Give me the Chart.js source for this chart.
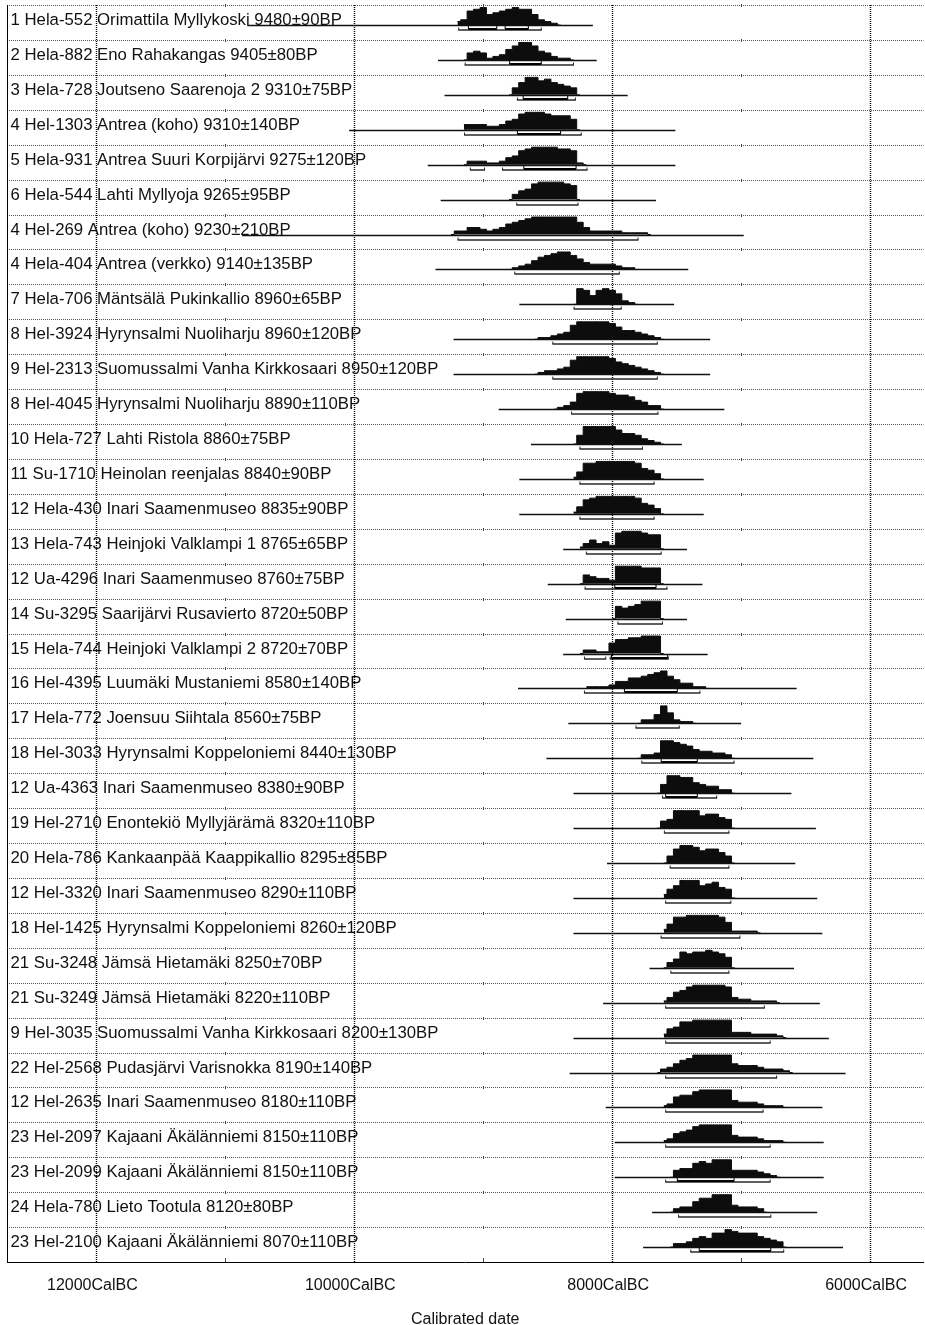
<!DOCTYPE html>
<html lang="fi">
<head>
<meta charset="UTF-8" />
<title>Calibrated date</title>
<script src="https://cdn.jsdelivr.net/npm/chart.js"></script>
<style>
  html, body { margin: 0; padding: 0; background: #fff; }
  #wrap { width: 925px; height: 1325px; }
</style>
</head>
<body>
<div id="wrap"><canvas id="chart"></canvas></div>
<script>
// row labels, top to bottom
const labels = [
  '1 Hela-552 Orimattila Myllykoski 9480±90BP',
  '2 Hela-882 Eno Rahakangas 9405±80BP',
  '3 Hela-728 Joutseno Saarenoja 2 9310±75BP',
  '4 Hel-1303 Antrea (koho) 9310±140BP',
  '5 Hela-931 Antrea Suuri Korpijärvi 9275±120BP',
  '6 Hela-544 Lahti Myllyoja 9265±95BP',
  '4 Hel-269 Antrea (koho) 9230±210BP',
  '4 Hela-404 Antrea (verkko) 9140±135BP',
  '7 Hela-706 Mäntsälä Pukinkallio 8960±65BP',
  '8 Hel-3924 Hyrynsalmi Nuoliharju 8960±120BP',
  '9 Hel-2313 Suomussalmi Vanha Kirkkosaari 8950±120BP',
  '8 Hel-4045 Hyrynsalmi Nuoliharju 8890±110BP',
  '10 Hela-727 Lahti Ristola 8860±75BP',
  '11 Su-1710 Heinolan reenjalas 8840±90BP',
  '12 Hela-430 Inari Saamenmuseo 8835±90BP',
  '13 Hela-743 Heinjoki Valklampi 1 8765±65BP',
  '12 Ua-4296 Inari Saamenmuseo 8760±75BP',
  '14 Su-3295 Saarijärvi Rusavierto 8720±50BP',
  '15 Hela-744 Heinjoki Valklampi 2 8720±70BP',
  '16 Hel-4395 Luumäki Mustaniemi 8580±140BP',
  '17 Hela-772 Joensuu Siihtala 8560±75BP',
  '18 Hel-3033 Hyrynsalmi Koppeloniemi 8440±130BP',
  '12 Ua-4363 Inari Saamenmuseo 8380±90BP',
  '19 Hel-2710 Enontekiö Myllyjärämä 8320±110BP',
  '20 Hela-786 Kankaanpää Kaappikallio 8295±85BP',
  '12 Hel-3320 Inari Saamenmuseo 8290±110BP',
  '18 Hel-1425 Hyrynsalmi Koppeloniemi 8260±120BP',
  '21 Su-3248 Jämsä Hietamäki 8250±70BP',
  '21 Su-3249 Jämsä Hietamäki 8220±110BP',
  '9 Hel-3035 Suomussalmi Vanha Kirkkosaari 8200±130BP',
  '22 Hel-2568 Pudasjärvi Varisnokka 8190±140BP',
  '12 Hel-2635 Inari Saamenmuseo 8180±110BP',
  '23 Hel-2097 Kajaani Äkälänniemi 8150±110BP',
  '23 Hel-2099 Kajaani Äkälänniemi 8150±110BP',
  '24 Hela-780 Lieto Tootula 8120±80BP',
  '23 Hel-2100 Kajaani Äkälänniemi 8070±110BP'
];

// probability curves: first sample (years BC), then relative heights every 50 years (0-10)
const distStep = 50;
const distStart = [
  9200, 9150, 8800, 9150, 9150, 8800, 9250, 8800, 8300, 8600, 8600, 8450,
  8300, 8300, 8300, 8250, 8250, 8000, 8250, 8200, 7800, 7800, 7650, 7650,
  7600, 7600, 7600, 7600, 7600, 7600, 7650, 7600, 7600, 7550, 7550, 7550
];
const dist = [
  [2,3,8,9,10,6,7,8,9,10,9,9,6,3,2,1,0],
  [0,4,5,4,1,2,3,6,8,10,10,8,5,4,2,1,1,0],
  [0,4,7,10,10,8,9,7,6,5,4,0],
  [3,3,3,3,2,2,3,5,6,9,10,10,10,9,8,8,8,6,0],
  [0,2,2,2,1,1,2,4,5,8,9,10,10,10,10,9,9,8,1,0],
  [0,3,5,6,9,10,10,10,10,9,8,0],
  [0,2,2,4,4,3,2,3,4,6,7,8,9,10,10,10,10,10,10,10,7,4,2,2,2,2,2,1,1,1,1,0],
  [0,1,2,3,5,7,8,9,10,10,8,6,4,3,3,3,3,2,1,1,0],
  [0,9,8,5,8,9,8,6,2,1,0],
  [0,1,1,2,3,4,8,10,10,10,10,10,9,7,5,5,4,3,2,1,0],
  [0,1,2,2,3,4,8,10,10,10,10,10,9,7,6,5,4,3,2,1,0],
  [0,1,2,4,9,10,10,10,10,9,8,8,7,5,4,2,2,0],
  [0,5,10,10,10,10,10,8,6,6,5,3,2,1,0],
  [1,4,9,9,10,10,10,10,10,10,9,6,5,3,0],
  [1,4,8,9,10,10,10,10,10,10,9,6,5,3,0],
  [1,3,5,3,4,2,9,10,10,10,9,8,8,0],
  [0,5,4,3,3,2,10,10,10,10,9,9,9,0],
  [0,7,6,7,8,10,10,10,0],
  [0,2,2,1,1,6,8,8,9,9,10,10,10,0],
  [1,1,1,1,2,4,4,6,6,7,8,9,10,7,5,3,3,1,1,0],
  [0,2,2,5,10,6,2,1,1,0],
  [0,2,2,3,10,10,9,8,7,5,4,4,3,3,2,0],
  [0,5,10,10,9,9,6,5,4,4,2,2,0],
  [0,4,5,10,10,10,10,7,8,8,6,5,0],
  [0,4,8,10,10,9,7,8,8,6,4,0],
  [2,5,7,10,10,10,7,8,9,6,5,0],
  [2,5,9,9,10,10,10,10,10,9,6,1,1,1,1,0],
  [0,3,5,9,8,9,9,10,9,8,6,0],
  [1,3,6,7,9,10,10,10,10,10,9,3,2,2,1,1,1,1,0],
  [2,5,6,9,9,10,10,10,10,10,10,3,3,3,2,2,2,2,1,0],
  [0,2,3,5,7,8,10,10,10,10,10,10,5,4,4,4,3,2,2,2,1,0],
  [1,2,6,7,7,9,10,10,10,10,10,4,3,3,3,2,1,1,1,0],
  [1,2,5,6,7,9,10,10,10,10,10,4,3,3,3,2,1,1,1,0],
  [0,4,5,5,8,9,8,10,10,10,4,4,4,4,3,2,1,0],
  [0,2,3,3,6,8,8,10,10,10,4,3,3,3,2,0],
  [0,2,2,3,5,6,5,8,8,10,9,8,8,8,6,5,4,3,0]
];

// full calibrated extent of each date (years BC)
const extentFrom = [
  10830, 9350, 9300, 10040, 9430, 9330, 10870, 9370, 8720, 9230, 9230, 8880,
  8630, 8720, 8720, 8380, 8500, 8360, 8380, 8730, 8340, 8510, 8300, 8300,
  8040, 8300, 8300, 7710, 8070, 8300, 8330, 8050, 7980, 7980, 7690, 7760
];
const extentTo = [
  8150, 8120, 7880, 7510, 7510, 7660, 6980, 7410, 7520, 7240, 7240, 7130,
  7460, 7290, 7290, 7420, 7300, 7420, 7260, 6570, 7000, 6440, 6610, 6420,
  6580, 6410, 6370, 6590, 6390, 6320, 6190, 6370, 6360, 6360, 6410, 6210
];

// 95.4% ranges
const range95 = [
  [[9190, 8550]], [[9140, 8300]], [[8735, 8285]], [[9145, 8240]],
  [[9100, 8990], [8850, 8195]], [[8740, 8265]], [[9195, 7800]], [[8755, 7945]],
  [[8295, 7930]], [[8460, 7650]], [[8460, 7650]], [[8315, 7645]],
  [[8250, 7765]], [[8250, 7675]], [[8250, 7675]], [[8200, 7620]],
  [[8210, 7575]], [[7955, 7610]], [[8215, 8050], [8015, 7565]], [[8215, 7320]],
  [[7815, 7480]], [[7770, 7055]], [[7610, 7190]], [[7595, 7095]],
  [[7550, 7095]], [[7585, 7080]], [[7620, 7010]], [[7545, 7095]],
  [[7585, 6820]], [[7585, 6775]], [[7585, 6725]], [[7585, 6830]],
  [[7585, 6775]], [[7585, 6775]], [[7485, 6770]], [[7390, 6670]]
];
// 68.2% ranges (where they can be seen)
const range68 = [
  [[9115, 8895], [8830, 8650]], [[8795, 8550]], [[8690, 8345]], [[8735, 8400]],
  [[8685, 8280]], [], [], [], [], [], [], [],
  [], [], [], [], [[7980, 7660]], [], [[8005, 7570]], [[7905, 7495]],
  [], [[7620, 7340]], [[7585, 7340]], [],
  [], [], [], [], [], [], [], [], [], [[7495, 7055]], [], [[7325, 6770]]
];

const majorYears = [12000, 10000, 8000, 6000];
const tickLabels = ['12000CalBC', '10000CalBC', '8000CalBC', '6000CalBC'];
const minorYears = [11000, 9000, 7000];
const axisTitle = 'Calibrated date';

const FONT = '"Liberation Sans", Arial, sans-serif';
const rowBase = 0.573;   // curve baseline inside a row
const rowPeak = 0.50;    // height of a full curve
const rowBracket = 0.716;

const datasets = dist.map((hs, i) => ({
  data: hs.map((h, k) => ({ x: -(distStart[i] - k * distStep), y: i + rowBase - h / 10 * rowPeak })),
  stepped: 'middle',
  borderWidth: 1,
  borderColor: '#0d0d0d',
  backgroundColor: '#0d0d0d',
  pointRadius: 0,
  fill: { value: i + rowBase }
}));

const oxcal = {
  id: 'oxcal',
  beforeDatasetsDraw(chart) {
    const { ctx, chartArea: a, scales: { x, y } } = chart;
    ctx.save();
    ctx.lineWidth = 1;
    // row separators
    ctx.strokeStyle = '#555';
    ctx.setLineDash([1, 1]);
    for (let i = 0; i < labels.length; i++) {
      const py = Math.round(y.getPixelForValue(i)) + 0.5;
      ctx.beginPath(); ctx.moveTo(a.left, py); ctx.lineTo(a.right, py); ctx.stroke();
    }
    // dotted date lines
    ctx.strokeStyle = '#000';
    ctx.lineWidth = 1.4;
    majorYears.forEach(v => {
      const px = Math.round(x.getPixelForValue(-v)) + 0.5;
      ctx.beginPath(); ctx.moveTo(px, a.top); ctx.lineTo(px, a.bottom); ctx.stroke();
    });
    ctx.setLineDash([]);
    ctx.lineWidth = 1;
    // small marks at the odd thousands
    ctx.strokeStyle = '#444';
    minorYears.forEach(v => {
      const px = Math.round(x.getPixelForValue(-v)) + 0.5;
      for (let i = 0; i <= labels.length; i++) {
        const py = Math.round(y.getPixelForValue(i));
        const last = i === labels.length;
        ctx.beginPath(); ctx.moveTo(px, py - (last ? 4 : 1)); ctx.lineTo(px, py + (last ? 0 : 2)); ctx.stroke();
      }
    });
    // left frame
    ctx.strokeStyle = '#000';
    ctx.beginPath(); ctx.moveTo(a.left + 0.5, a.top); ctx.lineTo(a.left + 0.5, a.bottom); ctx.stroke();
    ctx.restore();
  },
  afterDatasetsDraw(chart) {
    const { ctx, scales: { x, y } } = chart;
    ctx.save();
    labels.forEach((txt, i) => {
      const yb = Math.round(y.getPixelForValue(i + rowBase)) + 0.5;
      const yr = Math.round(y.getPixelForValue(i + rowBracket));
      // extent line
      ctx.strokeStyle = '#111';
      ctx.lineWidth = 1.4;
      ctx.beginPath();
      ctx.moveTo(x.getPixelForValue(-extentFrom[i]), yb);
      ctx.lineTo(x.getPixelForValue(-extentTo[i]), yb);
      ctx.stroke();
      // 95% brackets
      ctx.strokeStyle = '#2a2a2a';
      range95[i].forEach(([f, t]) => {
        const x1 = x.getPixelForValue(-f), x2 = x.getPixelForValue(-t);
        ctx.lineWidth = 1;
        ctx.beginPath();
        ctx.moveTo(x1, yr - 2.5); ctx.lineTo(x1, yr); ctx.moveTo(x2, yr - 2.5); ctx.lineTo(x2, yr);
        ctx.stroke();
        ctx.lineWidth = 1.5;
        ctx.beginPath(); ctx.moveTo(x1 - 0.5, yr); ctx.lineTo(x2 + 0.5, yr); ctx.stroke();
      });
      // 68% brackets
      ctx.strokeStyle = '#000';
      range68[i].forEach(([f, t]) => {
        const x1 = x.getPixelForValue(-f), x2 = x.getPixelForValue(-t);
        ctx.lineWidth = 1;
        ctx.beginPath();
        ctx.moveTo(x1, yb); ctx.lineTo(x1, yr - 1); ctx.moveTo(x2, yb); ctx.lineTo(x2, yr - 1);
        ctx.stroke();
        ctx.lineWidth = 2;
        ctx.beginPath(); ctx.moveTo(x1, yr - 1); ctx.lineTo(x2, yr - 1); ctx.stroke();
      });
      // label
      ctx.fillStyle = '#111';
      ctx.font = '16.75px ' + FONT;
      ctx.textAlign = 'left';
      ctx.textBaseline = 'alphabetic';
      ctx.fillText(txt, 10.5, yb - 0.5);
    });
    ctx.restore();
  }
};

new Chart(document.getElementById('chart'), {
  type: 'line',
  data: { datasets },
  options: {
    responsive: true,
    maintainAspectRatio: false,
    animation: false,
    events: [],
    layout: { padding: { left: 7, top: 5, right: 0, bottom: 0 } },
    plugins: { legend: { display: false }, tooltip: { enabled: false } },
    scales: {
      x: {
        type: 'linear',
        min: -12693,
        max: -5586,
        afterBuildTicks: s => {
          s.ticks = majorYears.concat(minorYears).sort((a, b) => b - a).map(v => ({ value: -v }));
        },
        afterFit: s => { s.height = 63; },
        grid: { display: false, drawTicks: false },
        border: { display: true, color: '#000', width: 1 },
        ticks: {
          autoSkip: false,
          maxRotation: 0,
          padding: 14,
          labelOffset: -4,
          color: '#111',
          font: { family: FONT, size: 16 },
          callback: v => {
            const k = majorYears.indexOf(-v);
            return k >= 0 ? tickLabels[k] : '';
          }
        },
        title: {
          display: true,
          text: axisTitle,
          color: '#111',
          font: { family: FONT, size: 16, lineHeight: 0.7 },
          padding: { top: 0, bottom: 0 }
        }
      },
      y: { type: 'linear', min: 0, max: 36, reverse: true, display: false }
    }
  },
  plugins: [oxcal]
});
</script>
</body>
</html>
